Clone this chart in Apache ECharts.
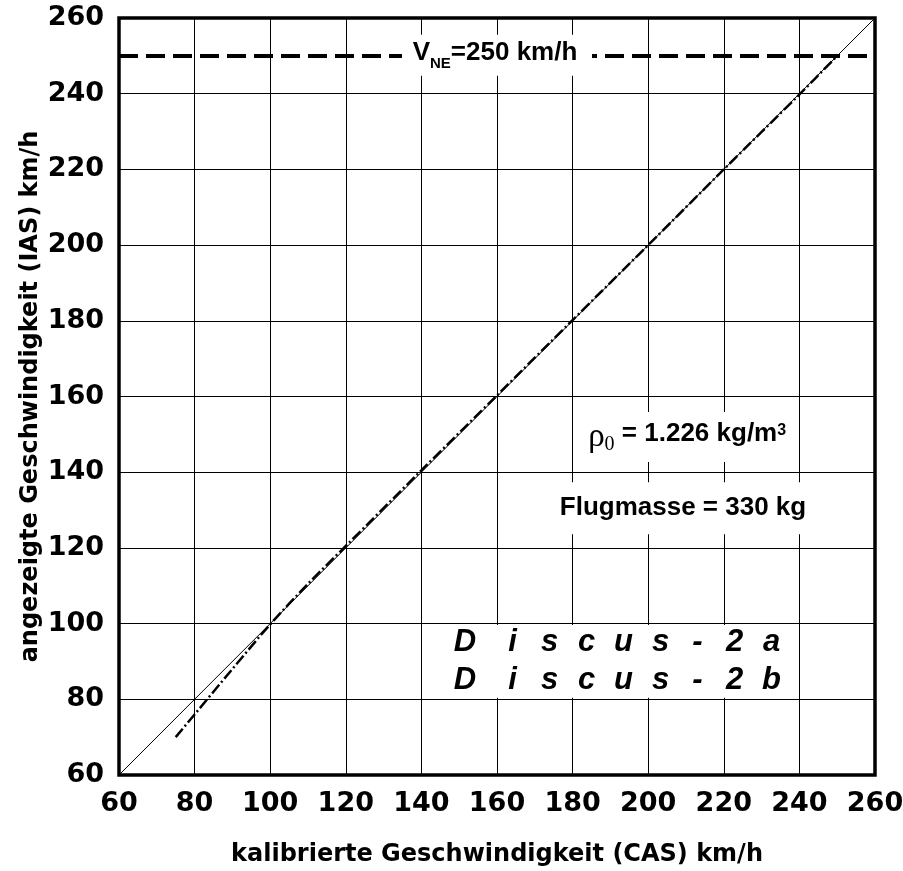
<!DOCTYPE html>
<html>
<head>
<meta charset="utf-8">
<script src="https://cdn.jsdelivr.net/npm/echarts@6/dist/echarts.min.js"></script>
<style>
  html, body { margin: 0; padding: 0; background: #fff; }
  #main { width: 903px; height: 871px; }
</style>
</head>
<body>
<div id="main"></div>
<script>
// ---- data ----
const axisTicks = [60, 80, 100, 120, 140, 160, 180, 200, 220, 240, 260];
const casValues = [75, 80, 90, 100, 110, 120, 140, 160, 180, 200, 220, 240, 250];
const iasValues = [70, 76, 88, 99.8, 110.5, 120.5, 140.5, 160.3, 180.2, 200, 220, 239.8, 250];
const identityLine = [60, 260];
const vneValue = 250;
const xAxisTitle = 'kalibrierte Geschwindigkeit (CAS) km/h';
const yAxisTitle = 'angezeigte Geschwindigkeit (IAS) km/h';
const logoLines = ['Discus-2a', 'Discus-2b'];

const FONT = '"Liberation Sans", Arial, Helvetica, sans-serif';
const WIDE = '"DejaVu Sans", "Liberation Sans", Arial, sans-serif';
const SERIF = '"Liberation Serif", "Times New Roman", serif';

const chart = echarts.init(document.getElementById('main'), null, { renderer: 'canvas' });

const curveData = casValues.map((c, i) => [c, iasValues[i]]);
const identityData = identityLine.map(v => [v, v]);

const axisCommon = {
  type: 'value',
  min: axisTicks[0],
  max: axisTicks[axisTicks.length - 1],
  interval: axisTicks[1] - axisTicks[0],
  axisLine: { show: false },
  axisTick: { show: false },
  splitLine: { show: true, lineStyle: { color: '#000', width: 1 } },
  nameLocation: 'middle',
  nameMoveOverlap: false,
  nameTextStyle: { fontFamily: WIDE, fontWeight: 'bold', fontSize: 24, color: '#000' },
  axisLabel: { fontFamily: WIDE, fontWeight: 'bold', fontSize: 27, color: '#000' }
};

const option = {
  animation: false,
  backgroundColor: '#fff',
  grid: {
    left: 119, right: 28, top: 18, bottom: 96,
    containLabel: false, outerBoundsMode: 'none',
    show: true, borderColor: '#000', borderWidth: 3.5, backgroundColor: 'transparent'
  },
  xAxis: Object.assign({}, axisCommon, {
    name: xAxisTitle, nameGap: 68,
    axisLabel: Object.assign({}, axisCommon.axisLabel, { margin: 15 })
  }),
  yAxis: Object.assign({}, axisCommon, {
    name: yAxisTitle, nameGap: 76, nameRotate: 90,
    axisLabel: Object.assign({}, axisCommon.axisLabel, { margin: 15 })
  }),
  series: [
    {
      type: 'line', data: identityData, symbol: 'none', z: 3,
      lineStyle: { color: '#000', width: 1 }
    },
    {
      type: 'line', data: curveData, symbol: 'none', z: 4, smooth: 0.3,
      lineStyle: { color: '#000', width: 2.5, type: [11, 3, 2, 3] }
    },
    {
      type: 'line', data: [], symbol: 'none', z: 4,
      markLine: {
        silent: true, symbol: 'none', animation: false,
        label: { show: false },
        lineStyle: { color: '#000', width: 4, type: [19, 8] },
        data: [{ yAxis: vneValue }]
      }
    }
  ]
};
chart.setOption(option);

function px(x, y) { return chart.convertToPixel({ gridIndex: 0 }, [x, y]); }

function spread(str) {
  return str.split('').map((c, i) => (i === 0 ? '{d|' : '{c|') + c + '}').join('');
}

const vnePos = px(160, vneValue);
const rhoPos = px(210.3, 149.3);
const massPos = px(209.2, 130.5);
const logoTop = px(160, 100);
const logoBot = px(160, 80);

const graphics = [
  // VNE label
  { type: 'rect', z: 50, shape: { x: vnePos[0] - 95, y: vnePos[1] - 21, width: 190, height: 41 }, style: { fill: '#fff' } },
  {
    type: 'text', z: 51, x: vnePos[0] - 2, y: vnePos[1] - 16,
    style: {
      text: '{m|V}{s|NE}{m|=250 km/h}',
      align: 'center', verticalAlign: 'top',
      rich: {
        m: { fontFamily: FONT, fontWeight: 'bold', fontSize: 26, lineHeight: 26, verticalAlign: 'top', fill: '#000' },
        s: { fontFamily: FONT, fontWeight: 'bold', fontSize: 15, lineHeight: 16, padding: [17, 0, 0, 0], verticalAlign: 'top', fill: '#000' }
      }
    }
  },
  // rho label
  { type: 'rect', z: 50, shape: { x: rhoPos[0] - 105, y: rhoPos[1] - 25, width: 210, height: 50 }, style: { fill: '#fff' } },
  {
    type: 'text', z: 51, x: rhoPos[0], y: rhoPos[1] - 16,
    style: {
      text: '{r|ρ}{s|0}{b| = 1.226 kg/m}{p|3}',
      align: 'center', verticalAlign: 'top',
      rich: {
        r: { fontFamily: SERIF, fontSize: 33, lineHeight: 30, verticalAlign: 'top', fill: '#000' },
        s: { fontFamily: SERIF, fontSize: 20, lineHeight: 18, padding: [14, 0, 0, 0], verticalAlign: 'top', fill: '#000' },
        b: { fontFamily: FONT, fontWeight: 'bold', fontSize: 26, lineHeight: 30, verticalAlign: 'top', fill: '#000' },
        p: { fontFamily: FONT, fontWeight: 'bold', fontSize: 16, lineHeight: 16, padding: [2, 0, 0, 0], verticalAlign: 'top', fill: '#000' }
      }
    }
  },
  // Flugmasse label
  { type: 'rect', z: 50, shape: { x: massPos[0] - 130, y: massPos[1] - 26, width: 260, height: 52 }, style: { fill: '#fff' } },
  {
    type: 'text', z: 51, x: massPos[0], y: massPos[1],
    style: {
      text: 'Flugmasse = 330 kg', align: 'center', verticalAlign: 'middle',
      font: 'bold 26px ' + FONT, fill: '#000'
    }
  },
  // logo box
  { type: 'rect', z: 50, shape: { x: 423, y: logoTop[1] + 1.5, width: 374, height: logoBot[1] - logoTop[1] - 3 }, style: { fill: '#fff' } }
];

logoLines.forEach((t, i) => {
  graphics.push({
    type: 'text', z: 51, x: 436, y: logoTop[1] + 19 + i * 38,
    style: {
      text: spread(t), align: 'left', verticalAlign: 'middle',
      rich: {
        d: { fontFamily: FONT, fontStyle: 'italic', fontWeight: 'bold', fontSize: 31, width: 58, align: 'center', fill: '#000',
             textShadowColor: 'rgba(0,0,0,0.5)', textShadowOffsetX: 2, textShadowOffsetY: 2 },
        c: { fontFamily: FONT, fontStyle: 'italic', fontWeight: 'bold', fontSize: 31, width: 37, align: 'center', fill: '#000',
             textShadowColor: 'rgba(0,0,0,0.5)', textShadowOffsetX: 2, textShadowOffsetY: 2 }
      }
    }
  });
});

chart.setOption({ graphic: graphics });
</script>
</body>
</html>
